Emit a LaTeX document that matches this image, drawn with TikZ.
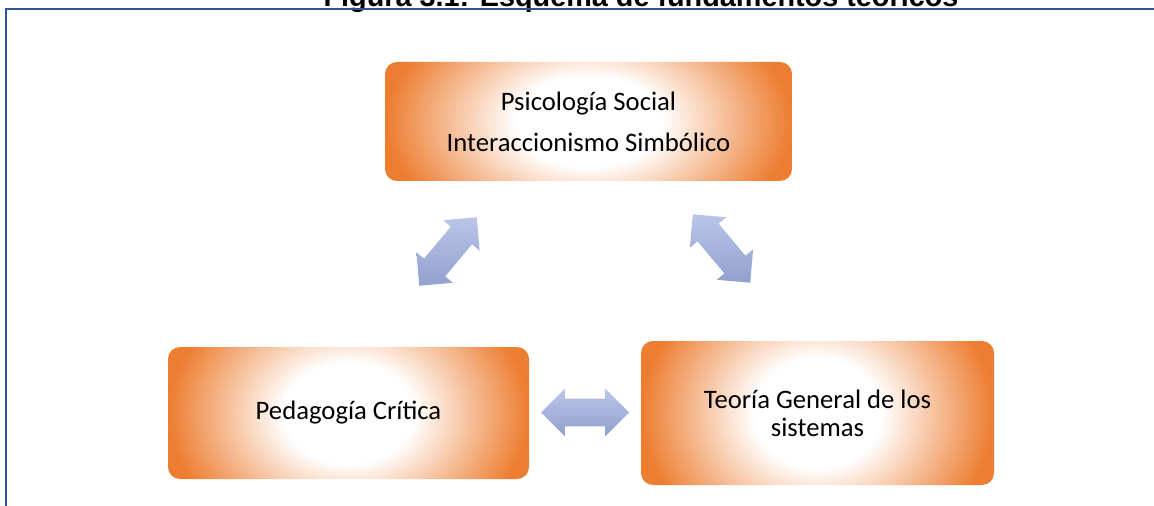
\documentclass[tikz,border=0pt]{standalone}
\usepackage{fontspec}
\setmainfont{Carlito}
\newfontfamily\captionfont{Liberation Sans}
\usetikzlibrary{shapes.arrows,calc}

\definecolor{boxorange}{RGB}{237,125,49}
\definecolor{framebl}{RGB}{47,84,150}
\definecolor{arrowtop}{RGB}{186,198,232}
\definecolor{arrowbot}{RGB}{146,160,206}

\pgfdeclareradialshading{boxglow}{\pgfpoint{0bp}{0bp}}{color(0bp)=(white); color(9bp)=(white); color(25bp)=(boxorange); color(50bp)=(boxorange)}

\tikzset{
  theory/.style={rounded corners=9pt, inner sep=0pt, align=center,
    font=\fontsize{20}{21.2}\selectfont,
    path picture={\shade[shading=boxglow]
      ($(path picture bounding box.south west)!-0.55!(path picture bounding box.north west)$) rectangle
      ($(path picture bounding box.north east)!-0.55!(path picture bounding box.south east)$);}},
  link/.style={double arrow, minimum height=67pt, inner xsep=0pt, inner ysep=10.125pt,
    double arrow head extend=7.5pt, draw=none,
    top color=arrowtop, bottom color=arrowbot}
}

\begin{document}
\begin{tikzpicture}[x=0.75pt,y=-0.75pt]
            \useasboundingbox (0,0) rectangle (1154,506);
            \clip (0,0) rectangle (1154,506);

            % caption, only its lower part is on the page
            \node[font=\captionfont\bfseries\fontsize{21.6}{26}\selectfont, anchor=base, inner sep=0pt] (caption) at (641,7) {Figura 3.1: Esquema de fundamentos teóricos};
            \draw[framebl, line width=1.5pt] (1160,9.5) -- (6,9.5) -- (6,510);

            \node[theory, minimum width=305.25pt, minimum height=89.25pt] (psico) at (588.5,121.5) {Psicología Social\\[9.5pt]Interaccionismo Simbólico};
            \node[theory, minimum width=270.75pt, minimum height=99pt] (pedago) at (348.5,413) {Pedagogía Crítica};
            \node[theory, minimum width=264.75pt, minimum height=108pt] (sistemas) at (817.5,413) {Teoría General de los\\sistemas};

            \node[link, rotate=50] (psico-pedago) at (448,251.5) {};
            \node[link, rotate=-50] (psico-sistemas) at (721.5,248.5) {};
            \node[link, minimum height=66pt] (pedago-sistemas) at (585,412.5) {};
\end{tikzpicture}
\end{document}
